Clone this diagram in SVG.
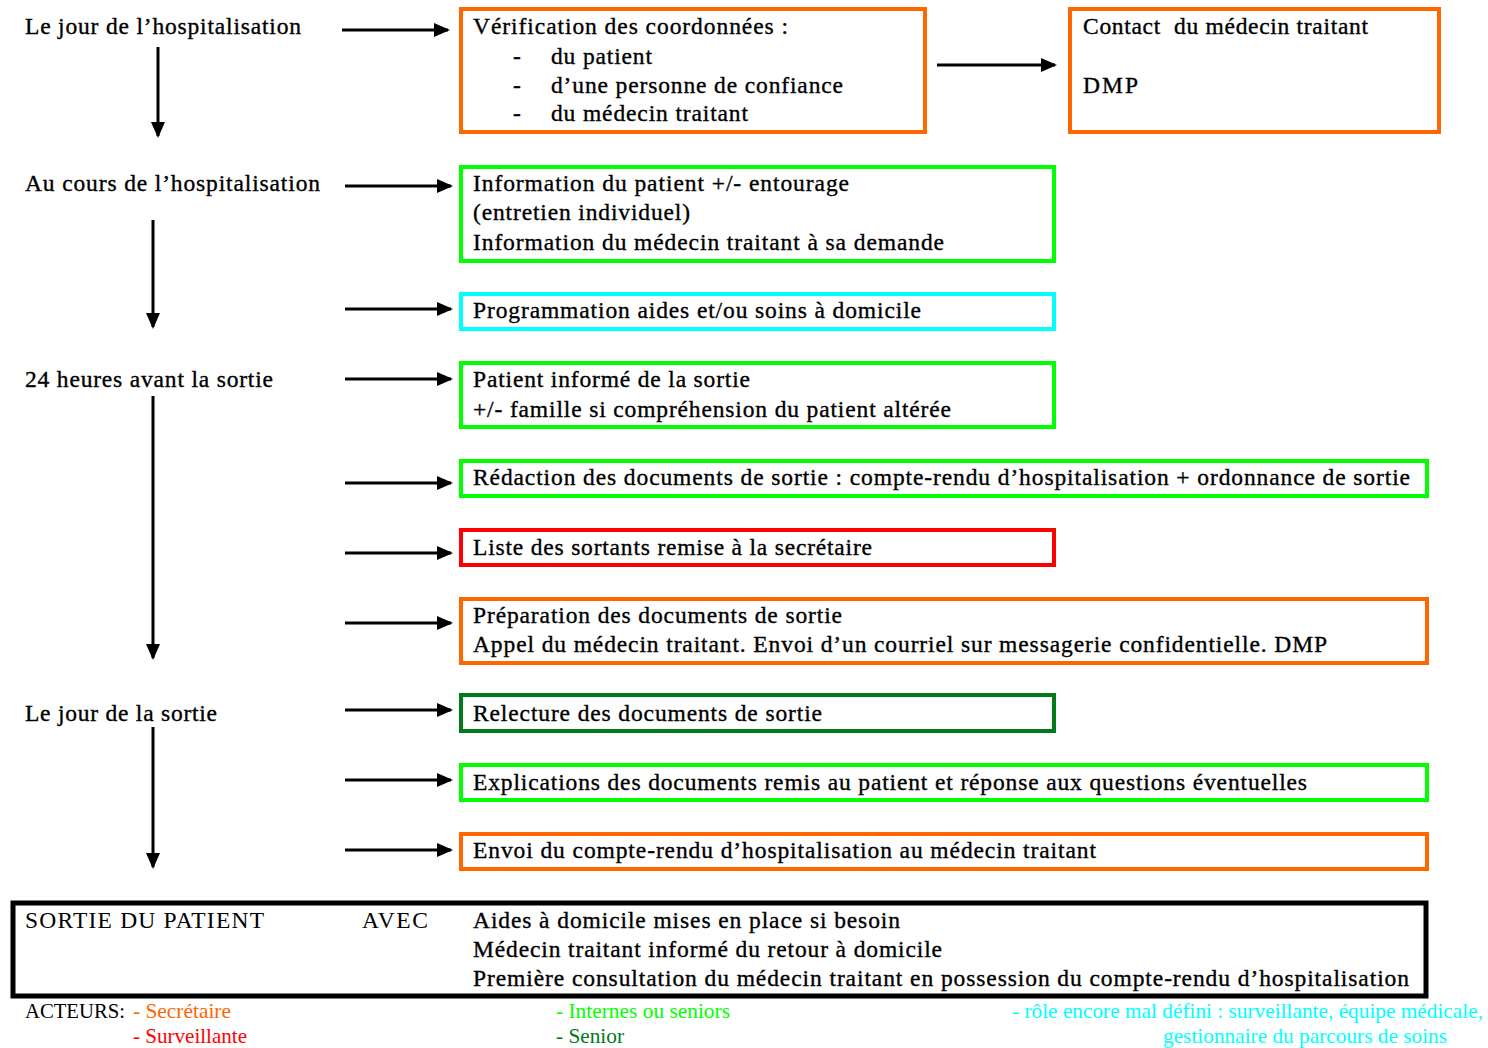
<svg xmlns="http://www.w3.org/2000/svg" width="1488" height="1048" viewBox="0 0 1488 1048">
<style>
text{font-family:"Liberation Serif","Times New Roman",serif;font-size:23.5px;fill:#000}
.b text{stroke:#000;stroke-width:0.35px}
.lg{font-size:21px}
.box{fill:#fff;stroke-width:4}
.or{stroke:#FF6600}.gr{stroke:#00FF00}.cy{stroke:#00FFFF}.rd{stroke:#FF0000}.dg{stroke:#007A1A}
.conn line{stroke:#000;stroke-width:3;marker-end:url(#ah)}
</style>
<defs>
<marker id="ah" markerUnits="userSpaceOnUse" markerWidth="16" markerHeight="14" refX="14" refY="7" orient="auto">
<path d="M0,0 L16,7 L0,14 Z" fill="#000"/>
</marker>
</defs>
<rect width="1488" height="1048" fill="#fff"/>

<g class="conn" id="connectors">
<line x1="342" y1="30" x2="448" y2="30"/>
<line x1="158" y1="47" x2="158" y2="136"/>
<line x1="937" y1="65" x2="1055" y2="65"/>
<line x1="345" y1="186" x2="451" y2="186"/>
<line x1="153" y1="220" x2="153" y2="327"/>
<line x1="345" y1="309" x2="451" y2="309"/>
<line x1="345" y1="379" x2="451" y2="379"/>
<line x1="153" y1="396" x2="153" y2="658"/>
<line x1="345" y1="483" x2="451" y2="483"/>
<line x1="345" y1="553" x2="451" y2="553"/>
<line x1="345" y1="623" x2="451" y2="623"/>
<line x1="345" y1="710" x2="451" y2="710"/>
<line x1="153" y1="727" x2="153" y2="867"/>
<line x1="345" y1="780" x2="451" y2="780"/>
<line x1="345" y1="850" x2="451" y2="850"/>
</g>

<g id="labels" class="b">
<text x="25" y="34" textLength="276">Le jour de l’hospitalisation</text>
<text x="25" y="191" textLength="295">Au cours de l’hospitalisation</text>
<text x="25" y="387" textLength="248">24 heures avant la sortie</text>
<text x="25" y="721" textLength="192">Le jour de la sortie</text>
</g>

<g id="n-verif" class="b">
<rect class="box or" x="461" y="9" width="464" height="123"/>
<text x="473" y="34" textLength="315">Vérification des coordonnées :</text>
<text x="513" y="64">-</text><text x="551" y="64" textLength="101">du patient</text>
<text x="513" y="93">-</text><text x="551" y="93" textLength="292">d’une personne de confiance</text>
<text x="513" y="121">-</text><text x="551" y="121" textLength="197">du médecin traitant</text>
</g>

<g id="n-contact" class="b">
<rect class="box or" x="1070" y="9" width="369" height="123"/>
<text x="1083" y="34" textLength="285" xml:space="preserve">Contact  du médecin traitant</text>
<text x="1083" y="93" textLength="55">DMP</text>
</g>

<g id="n-info" class="b">
<rect class="box gr" x="461" y="167" width="593" height="94"/>
<text x="473" y="191" textLength="376">Information du patient +/- entourage</text>
<text x="473" y="220" textLength="217">(entretien individuel)</text>
<text x="473" y="250" textLength="471">Information du médecin traitant à sa demande</text>
</g>

<g id="n-prog" class="b">
<rect class="box cy" x="461" y="294" width="593" height="35"/>
<text x="473" y="318" textLength="448">Programmation aides et/ou soins à domicile</text>
</g>

<g id="n-patinf" class="b">
<rect class="box gr" x="461" y="363" width="593" height="64"/>
<text x="473" y="387" textLength="277">Patient informé de la sortie</text>
<text x="473" y="417" textLength="478">+/- famille si compréhension du patient altérée</text>
</g>

<g id="n-redac" class="b">
<rect class="box gr" x="461" y="461" width="966" height="35"/>
<text x="473" y="485" textLength="937">Rédaction des documents de sortie : compte-rendu d’hospitalisation + ordonnance de sortie</text>
</g>

<g id="n-liste" class="b">
<rect class="box rd" x="461" y="530" width="593" height="35"/>
<text x="473" y="555" textLength="399">Liste des sortants remise à la secrétaire</text>
</g>

<g id="n-prep" class="b">
<rect class="box or" x="461" y="599" width="966" height="64"/>
<text x="473" y="623" textLength="369">Préparation des documents de sortie</text>
<text x="473" y="652" textLength="854">Appel du médecin traitant. Envoi d’un courriel sur messagerie confidentielle. DMP</text>
</g>

<g id="n-relec" class="b">
<rect class="box dg" x="461" y="695" width="593" height="36"/>
<text x="473" y="721" textLength="349">Relecture des documents de sortie</text>
</g>

<g id="n-explic" class="b">
<rect class="box gr" x="461" y="765" width="966" height="35"/>
<text x="473" y="790" textLength="834">Explications des documents remis au patient et réponse aux questions éventuelles</text>
</g>

<g id="n-envoi" class="b">
<rect class="box or" x="461" y="834" width="966" height="35"/>
<text x="473" y="858" textLength="623">Envoi du compte-rendu d’hospitalisation au médecin traitant</text>
</g>

<g id="n-sortie">
<rect x="13" y="903" width="1413" height="93" fill="#fff" stroke="#000" stroke-width="5"/>
<text x="25" y="928" textLength="239">SORTIE DU PATIENT</text>
<text x="362" y="928" textLength="66">AVEC</text>
<g class="b">
<text x="473" y="928" textLength="427">Aides à domicile mises en place si besoin</text>
<text x="473" y="957" textLength="469">Médecin traitant informé du retour à domicile</text>
<text x="473" y="986" textLength="936">Première consultation du médecin traitant en possession du compte-rendu d’hospitalisation</text>
</g>
</g>

<g id="legend">
<text class="lg" x="25" y="1018" textLength="100" lengthAdjust="spacingAndGlyphs">ACTEURS:</text>
<text class="lg" x="133" y="1018" textLength="98" lengthAdjust="spacingAndGlyphs" style="fill:#FF6600">- Secrétaire</text>
<text class="lg" x="133" y="1043" textLength="114" lengthAdjust="spacingAndGlyphs" style="fill:#FF0000">- Surveillante</text>
<text class="lg" x="556" y="1018" textLength="174" lengthAdjust="spacingAndGlyphs" style="fill:#00FF00">- Internes ou seniors</text>
<text class="lg" x="556" y="1043" textLength="68" lengthAdjust="spacingAndGlyphs" style="fill:#007A1A">- Senior</text>
<text class="lg" x="1012" y="1018" textLength="471" lengthAdjust="spacingAndGlyphs" style="fill:#00FFFF">- rôle encore mal défini : surveillante, équipe médicale,</text>
<text class="lg" x="1163" y="1043" textLength="284" lengthAdjust="spacingAndGlyphs" style="fill:#00FFFF">gestionnaire du parcours de soins</text>
</g>
</svg>
